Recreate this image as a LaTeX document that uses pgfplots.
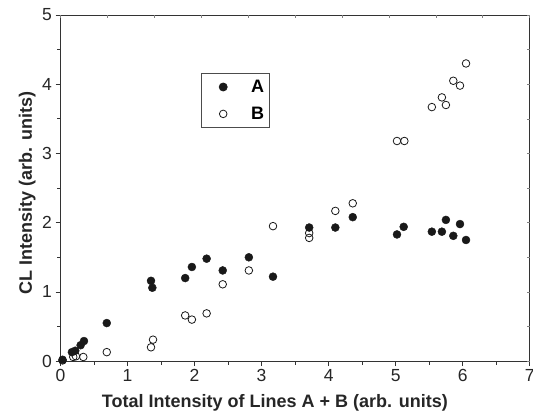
\documentclass[border=0pt]{standalone}
\usepackage{pgfplots}
\pgfplotsset{compat=1.18}
\usepackage{fontspec}
\setmainfont{Liberation Sans}
\pgfplotstableread{
x y
0.03 0.02
0.17 0.13
0.22 0.15
0.30 0.23
0.35 0.29
0.69 0.55
1.35 1.16
1.37 1.06
1.86 1.20
1.96 1.36
2.18 1.48
2.42 1.31
2.81 1.50
3.17 1.22
3.71 1.93
4.10 1.93
4.36 2.08
5.02 1.83
5.12 1.94
5.54 1.87
5.69 1.87
5.75 2.04
5.86 1.81
5.96 1.98
6.05 1.75
}\dataA
\pgfplotstableread{
x y
0.03 0.01
0.19 0.06
0.23 0.07
0.34 0.06
0.69 0.13
1.35 0.20
1.38 0.31
1.86 0.66
1.96 0.60
2.18 0.69
2.42 1.11
2.81 1.31
3.17 1.95
3.71 1.85
3.71 1.78
4.10 2.17
4.36 2.28
5.02 3.18
5.13 3.18
5.54 3.67
5.69 3.81
5.75 3.70
5.86 4.05
5.96 3.98
6.05 4.30
}\dataB
\begin{document}
\begin{tikzpicture}
\begin{axis}[
  scale only axis, width=469pt, height=346pt,
  xmin=0, xmax=7, ymin=0, ymax=5,
  xtick={0,...,7}, ytick={0,...,5},
  minor xtick={0.5,1.5,...,6.5}, minor ytick={0.5,1.5,...,4.5},
  xtick pos=bottom, ytick pos=left, tick align=outside,
  major tick length=5pt, minor tick length=3.5pt,
  tick style={color=black!80, line width=0.8pt},
  axis line style={black!80, line width=1pt},
  ticklabel style={font=\fontsize{17.5}{17.5}\selectfont, text=black!85},
  /pgf/number format/assume math mode=true,
  xlabel={Total Intensity of Lines A + B (arb. units)},
  ylabel={CL Intensity (arb. units)},
  label style={font=\bfseries\fontsize{18}{18}\selectfont, text=black!85},
  xlabel style={at={(axis description cs:0.457,0)}, anchor=base, yshift=-46pt},
  ylabel style={at={(axis description cs:-0.061,0.486)}, anchor=base, rotate=0},
  clip=false,
  legend style={at={(rel axis cs:0.299,0.832)}, anchor=north west,
    draw=black!70, line width=0.8pt, fill=white,
    font=\bfseries\fontsize{18}{18}\selectfont,
    inner xsep=3pt, inner ysep=4.5pt, row sep=9pt,
    nodes={inner sep=2pt}},
  legend cell align=left,
  legend image code/.code={\path[draw=none,fill=none] (0pt,0pt) (45pt,0pt); \draw[#1] plot coordinates {(19pt,0pt)};},
]
\addplot[only marks, mark=*, mark size=4pt, black!90] table {\dataA};
\addlegendentry{A}
\addplot[only marks, mark=o, mark size=3.8pt, black!90, line width=0.8pt, mark options={fill=white}] table {\dataB};
\addlegendentry{B}
\end{axis}
\begin{axis}[
  scale only axis, width=469pt, height=346pt,
  xmin=0, xmax=7, ymin=0, ymax=5,
  axis line style={draw=none},
  xtick={0,0.7,...,7.01}, ytick={0,0.5,...,5},
  xticklabels={}, yticklabels={},
  xtick pos=top, ytick pos=right, tick align=inside,
  major tick length=3pt,
  tick style={color=black!50, line width=0.6pt},
]
\end{axis}
\pgfresetboundingbox
\path ([shift={(-60.5pt,-53pt)}]current axis.south west) rectangle ([shift={(3.3pt,15pt)}]current axis.north east);
\end{tikzpicture}
\end{document}
